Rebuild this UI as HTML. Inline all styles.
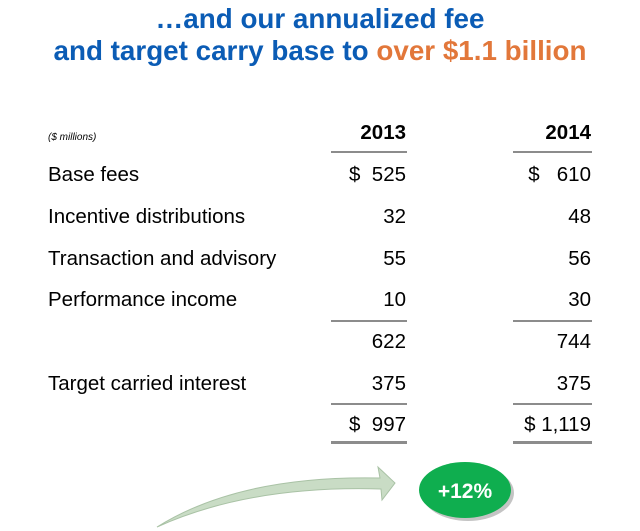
<!DOCTYPE html>
<html><head><meta charset="utf-8"><style>
body{margin:0;width:640px;height:531px;background:#fff;position:relative;overflow:hidden;font-family:"Liberation Sans",sans-serif}
.t{position:absolute;left:0;width:640px;text-align:center;font-weight:bold;font-size:27.8px;color:#0b5cb5}
.o{color:#e2773a}
.r{position:absolute;font-size:20.5px;color:#000;line-height:24px}
.ln{position:absolute;height:2px;background:#8c8c8c}
</style></head><body>
<div class="t" style="top:3px">…and our annualized fee</div>
<div class="t" style="top:35px">and target carry base to <span class="o">over $1.1 billion</span></div>
<div class="r" style="left:48px;top:126px;font-size:10px;font-style:italic">($ millions)</div>
<div id="tbl"></div>
<svg style="position:absolute;left:0;top:0" width="640" height="531">
<path d="M157,527 Q240,475 380,478 L378,467 L395,483 L382,500 L381,489 Q250,485 157,527Z" fill="#c9dcc5" stroke="#a9c2a5" stroke-width="1"/>
<ellipse cx="468" cy="493" rx="46" ry="28" fill="#555" opacity="0.35"/>
<ellipse cx="465" cy="490" rx="46" ry="28" fill="#0fae4f"/>
<text x="465" y="498" text-anchor="middle" font-family="Liberation Sans" font-weight="bold" font-size="21" fill="#fff">+12%</text>
</svg>
<script>
const labels=["Base fees","Incentive distributions","Transaction and advisory","Performance income","","Target carried interest",""];
const v2013=["$  525","32","55","10","622","375","$  997"];
const v2014=["$   610","48","56","30","744","375","$ 1,119"];
const rowY=[175,217,259,300,342,384,425];
const t=document.getElementById('tbl');
function add(html,style,name){const d=document.createElement('div');d.className='r';d.style.cssText=style;d.innerHTML=html;


t.appendChild(d);return d;}
add('2013','left:320px;width:86px;top:121px;text-align:right;font-weight:bold','header-2013');
add('2014','left:500px;width:91px;top:121px;text-align:right;font-weight:bold','header-2014');
labels.forEach((l,i)=>{
 if(l)add(l,'left:48px;top:'+(rowY[i]-12)+'px','row-label');
 add(v2013[i].replace(/ /g,'&nbsp;'),'left:290px;width:116px;top:'+(rowY[i]-12)+'px;text-align:right','value-2013');
 add(v2014[i].replace(/ /g,'&nbsp;'),'left:470px;width:121px;top:'+(rowY[i]-12)+'px;text-align:right','value-2014');
});
function line(x,w,y,h,name){const d=document.createElement('div');d.className='ln';d.style.cssText='left:'+x+'px;width:'+w+'px;top:'+y+'px;height:'+h+'px';


t.appendChild(d);}
[[151,2],[320,2],[403,2],[441,3]].forEach(([y,h])=>{line(331,76,y,h,'rule-2013');line(513,79,y,h,'rule-2014');});
</script>
</body></html>
